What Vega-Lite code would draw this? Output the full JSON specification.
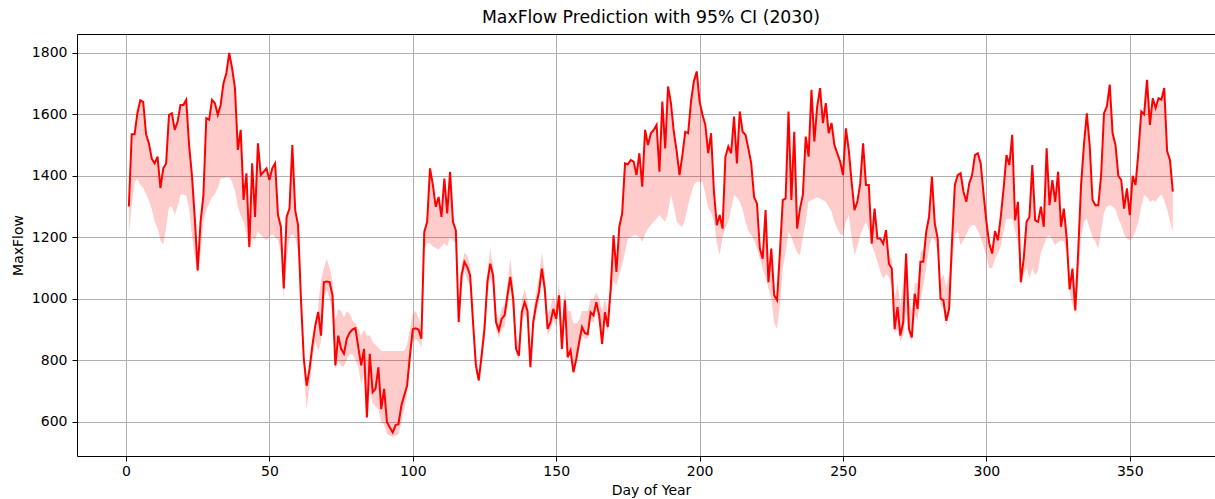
{
"$schema": "https://vega.github.io/schema/vega-lite/v6.json",
"width": 1138, "height": 422,
"autosize": {"type": "none"},
"padding": {"left": 77, "top": 34, "right": 0, "bottom": 43},
"background": "white",
"title": {"text": "MaxFlow Prediction with 95% CI (2030)", "font": "DejaVu Sans", "fontSize": 17.3, "fontWeight": "normal", "color": "#000", "anchor": "middle", "offset": 8, "dx": 5},
"config": {
 "view": {"stroke": null},
 "axis": {"domainColor": "#000", "domainWidth": 1, "tickColor": "#000", "tickWidth": 1, "tickSize": 5, "labelFont": "DejaVu Sans", "labelFontSize": 14, "labelColor": "#000", "titleFont": "DejaVu Sans", "titleFontSize": 14, "titleFontWeight": "normal", "titleColor": "#000", "gridColor": "#b0b0b0", "gridWidth": 1, "gridOpacity": 1, "labelFlush": false, "labelOverlap": false}
},
"datasets": {
"main": [
{"d":1,"v":1300,"lo":1206},{"d":2,"v":1535,"lo":1300},{"d":3,"v":1535,"lo":1380},{"d":4,"v":1605,"lo":1390},{"d":5,"v":1645,"lo":1370},
{"d":6,"v":1640,"lo":1360},{"d":7,"v":1535,"lo":1340},{"d":8,"v":1505,"lo":1320},{"d":9,"v":1455,"lo":1290},{"d":10,"v":1440,"lo":1250},
{"d":11,"v":1462,"lo":1230},{"d":12,"v":1360,"lo":1190},{"d":13,"v":1424,"lo":1175},{"d":14,"v":1440,"lo":1230},{"d":15,"v":1598,"lo":1300},
{"d":16,"v":1603,"lo":1300},{"d":17,"v":1549,"lo":1272},{"d":18,"v":1576,"lo":1300},{"d":19,"v":1630,"lo":1337},{"d":20,"v":1630,"lo":1340},
{"d":21,"v":1647,"lo":1335},{"d":22,"v":1500,"lo":1290},{"d":23,"v":1400,"lo":1206},{"d":24,"v":1261,"lo":1130},{"d":25,"v":1092,"lo":1085},
{"d":26,"v":1250,"lo":1150},{"d":27,"v":1337,"lo":1250},{"d":28,"v":1587,"lo":1290},{"d":29,"v":1582,"lo":1310},{"d":30,"v":1647,"lo":1330},
{"d":31,"v":1636,"lo":1340},{"d":32,"v":1598,"lo":1360},{"d":33,"v":1630,"lo":1391},{"d":34,"v":1701,"lo":1391},{"d":35,"v":1734,"lo":1395},
{"d":36,"v":1799,"lo":1395},{"d":37,"v":1750,"lo":1380},{"d":38,"v":1685,"lo":1350},{"d":39,"v":1484,"lo":1300},{"d":40,"v":1549,"lo":1270},
{"d":41,"v":1321,"lo":1250},{"d":42,"v":1408,"lo":1210},{"d":43,"v":1168,"lo":1160},{"d":44,"v":1440,"lo":1200},{"d":45,"v":1266,"lo":1190},
{"d":46,"v":1505,"lo":1220},{"d":47,"v":1402,"lo":1206},{"d":48,"v":1413,"lo":1200},{"d":49,"v":1424,"lo":1190},{"d":50,"v":1386,"lo":1200},
{"d":51,"v":1424,"lo":1210},{"d":52,"v":1440,"lo":1200},{"d":53,"v":1272,"lo":1190},{"d":54,"v":1234,"lo":1150},{"d":55,"v":1033,"lo":1000},
{"d":56,"v":1266,"lo":1120},{"d":57,"v":1293,"lo":1200},{"d":58,"v":1500,"lo":1210},{"d":59,"v":1288,"lo":1200},{"d":60,"v":1239,"lo":1150},
{"d":61,"v":1000,"lo":990},{"d":62,"v":804,"lo":760},{"d":63,"v":717,"lo":640},{"d":64,"v":772,"lo":720},{"d":65,"v":848,"lo":800},
{"d":66,"v":913,"lo":860},{"d":67,"v":957,"lo":830},{"d":68,"v":880,"lo":860},{"d":69,"v":1054,"lo":1000},{"d":70,"v":1056,"lo":1030},
{"d":71,"v":1054,"lo":1000},{"d":72,"v":1011,"lo":950},{"d":73,"v":783,"lo":770},{"d":74,"v":880,"lo":800},{"d":75,"v":837,"lo":780},
{"d":76,"v":821,"lo":780},{"d":77,"v":870,"lo":800},{"d":78,"v":890,"lo":820},{"d":79,"v":900,"lo":820},{"d":80,"v":904,"lo":800},
{"d":81,"v":842,"lo":780},{"d":82,"v":783,"lo":720},{"d":83,"v":837,"lo":760},{"d":84,"v":614,"lo":610},{"d":85,"v":821,"lo":700},
{"d":86,"v":696,"lo":660},{"d":87,"v":707,"lo":650},{"d":88,"v":777,"lo":640},{"d":89,"v":641,"lo":600},{"d":90,"v":707,"lo":590},
{"d":91,"v":598,"lo":560},{"d":92,"v":581,"lo":555},{"d":93,"v":565,"lo":550},{"d":94,"v":589,"lo":555},{"d":95,"v":592,"lo":560},
{"d":96,"v":652,"lo":600},{"d":97,"v":685,"lo":640},{"d":98,"v":717,"lo":690},{"d":99,"v":815,"lo":780},{"d":100,"v":901,"lo":860},
{"d":101,"v":904,"lo":870},{"d":102,"v":900,"lo":860},{"d":103,"v":870,"lo":840},{"d":104,"v":1217,"lo":1160},{"d":105,"v":1250,"lo":1180},
{"d":106,"v":1424,"lo":1180},{"d":107,"v":1370,"lo":1170},{"d":108,"v":1299,"lo":1165},{"d":109,"v":1331,"lo":1160},{"d":110,"v":1266,"lo":1170},
{"d":111,"v":1391,"lo":1180},{"d":112,"v":1277,"lo":1170},{"d":113,"v":1413,"lo":1200},{"d":114,"v":1250,"lo":1190},{"d":115,"v":1223,"lo":1180},
{"d":116,"v":924,"lo":910},{"d":117,"v":1076,"lo":1040},{"d":118,"v":1120,"lo":1090},{"d":119,"v":1103,"lo":1060},{"d":120,"v":1076,"lo":1040},
{"d":121,"v":924,"lo":900},{"d":122,"v":783,"lo":760},{"d":123,"v":734,"lo":730},{"d":124,"v":815,"lo":790},{"d":125,"v":902,"lo":870},
{"d":126,"v":1054,"lo":1010},{"d":127,"v":1114,"lo":1070},{"d":128,"v":1076,"lo":1040},{"d":129,"v":924,"lo":900},{"d":130,"v":897,"lo":870},
{"d":131,"v":935,"lo":900},{"d":132,"v":946,"lo":910},{"d":133,"v":1011,"lo":970},{"d":134,"v":1071,"lo":1030},{"d":135,"v":1000,"lo":960},
{"d":136,"v":837,"lo":820},{"d":137,"v":815,"lo":800},{"d":138,"v":956,"lo":920},{"d":139,"v":989,"lo":950},{"d":140,"v":960,"lo":930},
{"d":141,"v":777,"lo":770},{"d":142,"v":924,"lo":900},{"d":143,"v":980,"lo":950},{"d":144,"v":1022,"lo":990},{"d":145,"v":1098,"lo":1060},
{"d":146,"v":1033,"lo":1000},{"d":147,"v":902,"lo":880},{"d":148,"v":924,"lo":900},{"d":149,"v":967,"lo":930},{"d":150,"v":935,"lo":910},
{"d":151,"v":1011,"lo":980},{"d":152,"v":837,"lo":820},{"d":153,"v":995,"lo":960},{"d":154,"v":810,"lo":800},{"d":155,"v":832,"lo":820},
{"d":156,"v":761,"lo":755},{"d":157,"v":804,"lo":790},{"d":158,"v":859,"lo":830},{"d":159,"v":908,"lo":880},{"d":160,"v":888,"lo":870},
{"d":161,"v":885,"lo":870},{"d":162,"v":956,"lo":930},{"d":163,"v":946,"lo":920},{"d":164,"v":989,"lo":960},{"d":165,"v":946,"lo":920},
{"d":166,"v":853,"lo":840},{"d":167,"v":956,"lo":930},{"d":168,"v":908,"lo":890},{"d":169,"v":1033,"lo":1000},{"d":170,"v":1206,"lo":1060},
{"d":171,"v":1087,"lo":1043},{"d":172,"v":1234,"lo":1080},{"d":173,"v":1277,"lo":1109},{"d":174,"v":1440,"lo":1150},{"d":175,"v":1437,"lo":1196},
{"d":176,"v":1451,"lo":1200},{"d":177,"v":1446,"lo":1206},{"d":178,"v":1402,"lo":1206},{"d":179,"v":1473,"lo":1200},{"d":180,"v":1364,"lo":1185},
{"d":181,"v":1549,"lo":1210},{"d":182,"v":1500,"lo":1228},{"d":183,"v":1538,"lo":1240},{"d":184,"v":1549,"lo":1250},{"d":185,"v":1565,"lo":1260},
{"d":186,"v":1413,"lo":1272},{"d":187,"v":1641,"lo":1260},{"d":188,"v":1489,"lo":1250},{"d":189,"v":1690,"lo":1280},{"d":190,"v":1636,"lo":1337},
{"d":191,"v":1543,"lo":1300},{"d":192,"v":1480,"lo":1250},{"d":193,"v":1402,"lo":1240},{"d":194,"v":1467,"lo":1234},{"d":195,"v":1543,"lo":1260},
{"d":196,"v":1538,"lo":1304},{"d":197,"v":1641,"lo":1340},{"d":198,"v":1707,"lo":1370},{"d":199,"v":1739,"lo":1380},{"d":200,"v":1641,"lo":1380},
{"d":201,"v":1598,"lo":1380},{"d":202,"v":1565,"lo":1340},{"d":203,"v":1473,"lo":1293},{"d":204,"v":1538,"lo":1280},{"d":205,"v":1348,"lo":1250},
{"d":206,"v":1239,"lo":1180},{"d":207,"v":1272,"lo":1141},{"d":208,"v":1228,"lo":1200},{"d":209,"v":1462,"lo":1230},{"d":210,"v":1495,"lo":1250},
{"d":211,"v":1473,"lo":1290},{"d":212,"v":1592,"lo":1337},{"d":213,"v":1440,"lo":1330},{"d":214,"v":1609,"lo":1315},{"d":215,"v":1543,"lo":1290},
{"d":216,"v":1533,"lo":1250},{"d":217,"v":1489,"lo":1220},{"d":218,"v":1440,"lo":1206},{"d":219,"v":1330,"lo":1190},{"d":220,"v":1310,"lo":1163},
{"d":221,"v":1163,"lo":1130},{"d":222,"v":1130,"lo":1098},{"d":223,"v":1288,"lo":1070},{"d":224,"v":1054,"lo":1033},{"d":225,"v":1163,"lo":1000},
{"d":226,"v":1011,"lo":920},{"d":227,"v":995,"lo":902},{"d":228,"v":1150,"lo":980},{"d":229,"v":1321,"lo":1098},{"d":230,"v":1326,"lo":1150},
{"d":231,"v":1609,"lo":1217},{"d":232,"v":1321,"lo":1200},{"d":233,"v":1543,"lo":1174},{"d":234,"v":1228,"lo":1150},{"d":235,"v":1293,"lo":1141},
{"d":236,"v":1337,"lo":1200},{"d":237,"v":1527,"lo":1250},{"d":238,"v":1462,"lo":1315},{"d":239,"v":1679,"lo":1320},{"d":240,"v":1511,"lo":1326},
{"d":241,"v":1625,"lo":1330},{"d":242,"v":1685,"lo":1326},{"d":243,"v":1571,"lo":1320},{"d":244,"v":1636,"lo":1315},{"d":245,"v":1538,"lo":1300},
{"d":246,"v":1571,"lo":1283},{"d":247,"v":1500,"lo":1250},{"d":248,"v":1473,"lo":1228},{"d":249,"v":1446,"lo":1210},{"d":250,"v":1402,"lo":1206},
{"d":251,"v":1554,"lo":1250},{"d":252,"v":1484,"lo":1270},{"d":253,"v":1380,"lo":1200},{"d":254,"v":1288,"lo":1141},{"d":255,"v":1315,"lo":1170},
{"d":256,"v":1375,"lo":1206},{"d":257,"v":1505,"lo":1230},{"d":258,"v":1370,"lo":1250},{"d":259,"v":1370,"lo":1220},{"d":260,"v":1179,"lo":1174},
{"d":261,"v":1293,"lo":1150},{"d":262,"v":1196,"lo":1119},{"d":263,"v":1196,"lo":1090},{"d":264,"v":1179,"lo":1065},{"d":265,"v":1223,"lo":1080},
{"d":266,"v":1114,"lo":1070},{"d":267,"v":1098,"lo":1040},{"d":268,"v":901,"lo":890},{"d":269,"v":973,"lo":900},{"d":270,"v":880,"lo":860},
{"d":271,"v":924,"lo":880},{"d":272,"v":1147,"lo":960},{"d":273,"v":901,"lo":880},{"d":274,"v":874,"lo":860},{"d":275,"v":1016,"lo":950},
{"d":276,"v":967,"lo":930},{"d":277,"v":1120,"lo":1000},{"d":278,"v":1120,"lo":1040},{"d":279,"v":1217,"lo":1100},{"d":280,"v":1266,"lo":1163},
{"d":281,"v":1397,"lo":1200},{"d":282,"v":1245,"lo":1190},{"d":283,"v":1196,"lo":1150},{"d":284,"v":1000,"lo":980},{"d":285,"v":995,"lo":970},
{"d":286,"v":928,"lo":910},{"d":287,"v":967,"lo":950},{"d":288,"v":1185,"lo":1100},{"d":289,"v":1370,"lo":1206},{"d":290,"v":1402,"lo":1220},
{"d":291,"v":1408,"lo":1174},{"d":292,"v":1348,"lo":1190},{"d":293,"v":1315,"lo":1210},{"d":294,"v":1375,"lo":1230},{"d":295,"v":1402,"lo":1240},
{"d":296,"v":1467,"lo":1240},{"d":297,"v":1473,"lo":1220},{"d":298,"v":1440,"lo":1200},{"d":299,"v":1342,"lo":1170},{"d":300,"v":1250,"lo":1140},
{"d":301,"v":1179,"lo":1098},{"d":302,"v":1147,"lo":1100},{"d":303,"v":1220,"lo":1130},{"d":304,"v":1190,"lo":1150},{"d":305,"v":1266,"lo":1170},
{"d":306,"v":1359,"lo":1220},{"d":307,"v":1467,"lo":1260},{"d":308,"v":1435,"lo":1260},{"d":309,"v":1533,"lo":1260},{"d":310,"v":1255,"lo":1220},
{"d":311,"v":1315,"lo":1180},{"d":312,"v":1054,"lo":1040},{"d":313,"v":1130,"lo":1080},{"d":314,"v":1250,"lo":1100},{"d":315,"v":1266,"lo":1065},
{"d":316,"v":1435,"lo":1100},{"d":317,"v":1255,"lo":1076},{"d":318,"v":1250,"lo":1090},{"d":319,"v":1299,"lo":1150},{"d":320,"v":1234,"lo":1174},
{"d":321,"v":1489,"lo":1200},{"d":322,"v":1304,"lo":1206},{"d":323,"v":1386,"lo":1190},{"d":324,"v":1315,"lo":1174},{"d":325,"v":1413,"lo":1185},
{"d":326,"v":1234,"lo":1190},{"d":327,"v":1293,"lo":1185},{"d":328,"v":1196,"lo":1150},{"d":329,"v":1030,"lo":1020},{"d":330,"v":1098,"lo":980},
{"d":331,"v":962,"lo":950},{"d":332,"v":1152,"lo":1050},{"d":333,"v":1370,"lo":1200},{"d":334,"v":1500,"lo":1250},{"d":335,"v":1603,"lo":1260},
{"d":336,"v":1500,"lo":1228},{"d":337,"v":1321,"lo":1200},{"d":338,"v":1304,"lo":1185},{"d":339,"v":1304,"lo":1163},{"d":340,"v":1402,"lo":1220},
{"d":341,"v":1603,"lo":1280},{"d":342,"v":1625,"lo":1300},{"d":343,"v":1696,"lo":1304},{"d":344,"v":1538,"lo":1300},{"d":345,"v":1500,"lo":1290},
{"d":346,"v":1400,"lo":1260},{"d":347,"v":1386,"lo":1240},{"d":348,"v":1293,"lo":1210},{"d":349,"v":1359,"lo":1196},{"d":350,"v":1272,"lo":1190},
{"d":351,"v":1400,"lo":1200},{"d":352,"v":1370,"lo":1220},{"d":353,"v":1478,"lo":1250},{"d":354,"v":1609,"lo":1300},{"d":355,"v":1600,"lo":1337},
{"d":356,"v":1712,"lo":1330},{"d":357,"v":1565,"lo":1315},{"d":358,"v":1652,"lo":1320},{"d":359,"v":1620,"lo":1315},{"d":360,"v":1652,"lo":1330},
{"d":361,"v":1647,"lo":1340},{"d":362,"v":1685,"lo":1320},{"d":363,"v":1480,"lo":1290},{"d":364,"v":1451,"lo":1250},{"d":365,"v":1348,"lo":1217}
],
"upper": [
{"s":"a","d":67,"v":957,"hi":980},{"s":"a","d":68,"v":880,"hi":1060},{"s":"a","d":69,"v":1054,"hi":1100},{"s":"a","d":70,"v":1056,"hi":1130},
{"s":"a","d":71,"v":1054,"hi":1100},{"s":"a","d":72,"v":1011,"hi":1060},{"s":"a","d":73,"v":783,"hi":930},{"s":"a","d":74,"v":880,"hi":967},
{"s":"a","d":75,"v":837,"hi":960},{"s":"a","d":76,"v":821,"hi":940},{"s":"a","d":77,"v":870,"hi":960},{"s":"a","d":78,"v":890,"hi":950},
{"s":"a","d":79,"v":900,"hi":930},{"s":"a","d":80,"v":904,"hi":920},{"s":"a","d":81,"v":842,"hi":900},{"s":"a","d":82,"v":783,"hi":880},
{"s":"a","d":83,"v":837,"hi":900},{"s":"a","d":84,"v":614,"hi":880},{"s":"a","d":85,"v":821,"hi":880},{"s":"a","d":86,"v":696,"hi":860},
{"s":"a","d":87,"v":707,"hi":850},{"s":"a","d":88,"v":777,"hi":840},{"s":"a","d":89,"v":641,"hi":830},{"s":"a","d":90,"v":707,"hi":830},
{"s":"a","d":91,"v":598,"hi":830},{"s":"a","d":92,"v":581,"hi":830},{"s":"a","d":93,"v":565,"hi":830},{"s":"a","d":94,"v":589,"hi":830},
{"s":"a","d":95,"v":592,"hi":830},{"s":"a","d":96,"v":652,"hi":830},{"s":"a","d":97,"v":685,"hi":830},{"s":"a","d":98,"v":717,"hi":850},
{"s":"a","d":99,"v":815,"hi":900},{"s":"a","d":100,"v":901,"hi":950},{"s":"a","d":101,"v":904,"hi":960},{"s":"a","d":102,"v":900,"hi":940},
{"s":"a","d":103,"v":870,"hi":900},
{"s":"b","d":116,"v":924,"hi":960},{"s":"b","d":117,"v":1076,"hi":1110},{"s":"b","d":118,"v":1120,"hi":1150},{"s":"b","d":119,"v":1103,"hi":1140},
{"s":"b","d":120,"v":1076,"hi":1110},{"s":"b","d":121,"v":924,"hi":960},{"s":"b","d":122,"v":783,"hi":810},{"s":"b","d":123,"v":734,"hi":760},
{"s":"b","d":124,"v":815,"hi":850},{"s":"b","d":125,"v":902,"hi":940},{"s":"b","d":126,"v":1054,"hi":1090},{"s":"b","d":127,"v":1114,"hi":1160},
{"s":"b","d":128,"v":1076,"hi":1110},{"s":"b","d":129,"v":924,"hi":960},{"s":"b","d":130,"v":897,"hi":930},{"s":"b","d":131,"v":935,"hi":970},
{"s":"b","d":132,"v":946,"hi":980},{"s":"b","d":133,"v":1011,"hi":1050},{"s":"b","d":134,"v":1071,"hi":1130},{"s":"b","d":135,"v":1000,"hi":1050},
{"s":"b","d":136,"v":837,"hi":880},{"s":"b","d":137,"v":815,"hi":850},{"s":"b","d":138,"v":956,"hi":1000},{"s":"b","d":139,"v":989,"hi":1030},
{"s":"b","d":140,"v":960,"hi":1000},{"s":"b","d":141,"v":777,"hi":810},{"s":"b","d":142,"v":924,"hi":960},{"s":"b","d":143,"v":980,"hi":1020},
{"s":"b","d":144,"v":1022,"hi":1070},{"s":"b","d":145,"v":1098,"hi":1150},{"s":"b","d":146,"v":1033,"hi":1080},{"s":"b","d":147,"v":902,"hi":950},
{"s":"b","d":148,"v":924,"hi":970},{"s":"b","d":149,"v":967,"hi":1010},{"s":"b","d":150,"v":935,"hi":980},{"s":"b","d":151,"v":1011,"hi":1050},
{"s":"b","d":152,"v":837,"hi":900},{"s":"b","d":153,"v":995,"hi":1030},{"s":"b","d":154,"v":810,"hi":960},{"s":"b","d":155,"v":832,"hi":960},
{"s":"b","d":156,"v":761,"hi":920},{"s":"b","d":157,"v":804,"hi":920},{"s":"b","d":158,"v":859,"hi":930},{"s":"b","d":159,"v":908,"hi":960},
{"s":"b","d":160,"v":888,"hi":960},{"s":"b","d":161,"v":885,"hi":960},{"s":"b","d":162,"v":956,"hi":1000},{"s":"b","d":163,"v":946,"hi":1000},
{"s":"b","d":164,"v":989,"hi":1020},{"s":"b","d":165,"v":946,"hi":1000},{"s":"b","d":166,"v":853,"hi":960},{"s":"b","d":167,"v":956,"hi":1000},
{"s":"b","d":168,"v":908,"hi":960},{"s":"b","d":169,"v":1033,"hi":1060},
{"s":"c","d":266,"v":1114,"hi":1140},{"s":"c","d":267,"v":1098,"hi":1130},{"s":"c","d":268,"v":901,"hi":1000},{"s":"c","d":269,"v":973,"hi":1050},
{"s":"c","d":270,"v":880,"hi":980},{"s":"c","d":271,"v":924,"hi":1050},{"s":"c","d":272,"v":1147,"hi":1160},{"s":"c","d":273,"v":901,"hi":1000},
{"s":"c","d":274,"v":874,"hi":960},{"s":"c","d":275,"v":1016,"hi":1050},{"s":"c","d":276,"v":967,"hi":1050},{"s":"c","d":277,"v":1120,"hi":1150},
{"s":"c","d":278,"v":1120,"hi":1160},{"s":"c","d":279,"v":1217,"hi":1230},{"s":"c","d":280,"v":1266,"hi":1280},{"s":"c","d":281,"v":1397,"hi":1400},
{"s":"c","d":282,"v":1245,"hi":1250},{"s":"c","d":283,"v":1196,"hi":1200},{"s":"c","d":284,"v":1000,"hi":1060},{"s":"c","d":285,"v":995,"hi":1080},
{"s":"c","d":286,"v":928,"hi":1040},{"s":"c","d":287,"v":967,"hi":1080},{"s":"c","d":288,"v":1185,"hi":1190}
]
},
"layer": [
 {
  "data": {"name": "main"},
  "mark": {"type": "area", "color": "#ff0000", "opacity": 0.2},
  "encoding": {
   "x": {"field": "d", "type": "quantitative", "scale": {"domain": [-17.08, 379.7], "nice": false, "zero": false},
         "axis": {"orient": "bottom", "values": [0, 50, 100, 150, 200, 250, 300, 350], "grid": true, "title": "Day of Year", "labelPadding": 3, "titlePadding": 5, "titleX": 574}},
   "y": {"field": "lo", "type": "quantitative", "title": "MaxFlow", "scale": {"domain": [488.5, 1860.8], "nice": false, "zero": false},
         "axis": {"values": [600, 800, 1000, 1200, 1400, 1600, 1800], "format": "d", "grid": true, "labelPadding": 5, "titlePadding": 6}},
   "y2": {"field": "v"}
  }
 },
 {
  "data": {"name": "upper"},
  "mark": {"type": "area", "color": "#ff0000", "opacity": 0.2},
  "encoding": {
   "x": {"field": "d", "type": "quantitative", "axis": null},
   "y": {"field": "v", "type": "quantitative", "title": "MaxFlow"},
   "y2": {"field": "hi"},
   "detail": {"field": "s", "type": "nominal"}
  }
 },
 {
  "data": {"name": "main"},
  "mark": {"type": "line", "color": "#ff0000", "strokeWidth": 2},
  "encoding": {
   "x": {"field": "d", "type": "quantitative", "axis": {"orient": "top", "labels": false, "ticks": false, "grid": false, "domain": true, "title": null}},
   "y": {"field": "v", "type": "quantitative", "title": "MaxFlow"}
  }
 }
],
"resolve": {"axis": {"x": "independent"}}
}
